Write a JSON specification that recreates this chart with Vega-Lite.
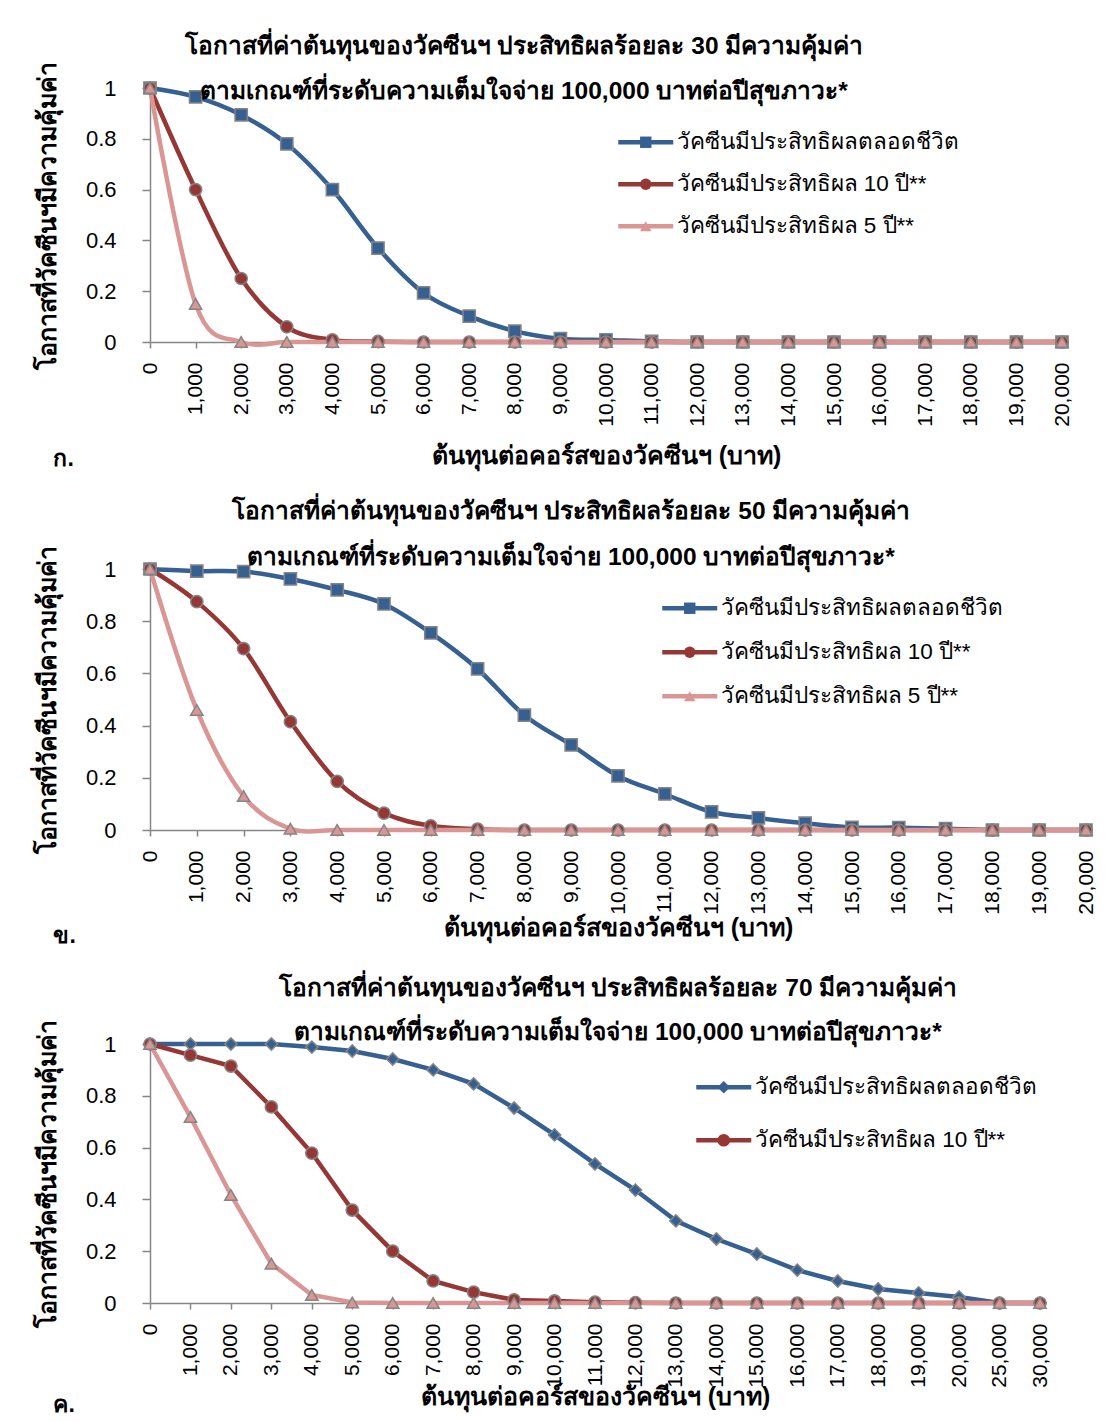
{
  "$schema": "https://vega.github.io/schema/vega-lite/v6.json",
  "padding": {"left": 35, "top": 33, "right": 5, "bottom": 5},
  "spacing": 28,
  "resolve": {"scale": {"color": "independent", "fill": "independent", "shape": "independent"}},
  "config": {
    "font": "Liberation Sans",
    "view": {"stroke": null},
    "title": {"font": "Liberation Sans", "fontSize": 24.5, "fontWeight": "bold", "color": "#000"},
    "axis": {
      "domainColor": "#868686", "domainWidth": 1.5, "tickColor": "#868686", "tickWidth": 1.5,
      "labelColor": "#000", "labelFont": "Liberation Sans", "labelFontSize": 21,
      "titleColor": "#000", "titleFont": "Liberation Sans", "titleFontSize": 25, "titleFontWeight": "bold", "grid": false
    },
    "axisY": {"labelFontSize": 22},
    "legend": {"labelFont": "Liberation Sans", "labelFontSize": 22.5, "labelColor": "#000", "title": null, "labelLimit": 0}
  },
  "vconcat": [
    {
      "title": {"text": "ก.", "orient": "bottom", "anchor": "start", "fontSize": 23, "offset": -20, "dx": 18},
      "vconcat": [
        {
          "width": 912, "height": 254,
          "title": {"text": ["โอกาสที่ค่าต้นทุนของวัคซีนฯ ประสิทธิผลร้อยละ 30 มีความคุ้มค่า", "ตามเกณฑ์ที่ระดับความเต็มใจจ่าย 100,000 บาทต่อปีสุขภาวะ*"], "dx": -82, "offset": -43, "lineHeight": 45, "anchor": "middle"},
          "data": {"values": [
            {"cost": 0, "life": 1, "y10": 1, "y5": 1},
            {"cost": 1000, "life": 0.965, "y10": 0.6, "y5": 0.15},
            {"cost": 2000, "life": 0.894, "y10": 0.25, "y5": 0},
            {"cost": 3000, "life": 0.78, "y10": 0.06, "y5": 0},
            {"cost": 4000, "life": 0.6, "y10": 0.008, "y5": 0},
            {"cost": 5000, "life": 0.37, "y10": 0.002, "y5": 0},
            {"cost": 6000, "life": 0.193, "y10": 0, "y5": 0},
            {"cost": 7000, "life": 0.102, "y10": 0, "y5": 0},
            {"cost": 8000, "life": 0.043, "y10": 0, "y5": 0},
            {"cost": 9000, "life": 0.013, "y10": 0, "y5": 0},
            {"cost": 10000, "life": 0.008, "y10": 0, "y5": 0},
            {"cost": 11000, "life": 0.002, "y10": 0, "y5": 0},
            {"cost": 12000, "life": 0, "y10": 0, "y5": 0},
            {"cost": 13000, "life": 0, "y10": 0, "y5": 0},
            {"cost": 14000, "life": 0, "y10": 0, "y5": 0},
            {"cost": 15000, "life": 0, "y10": 0, "y5": 0},
            {"cost": 16000, "life": 0, "y10": 0, "y5": 0},
            {"cost": 17000, "life": 0, "y10": 0, "y5": 0},
            {"cost": 18000, "life": 0, "y10": 0, "y5": 0},
            {"cost": 19000, "life": 0, "y10": 0, "y5": 0},
            {"cost": 20000, "life": 0, "y10": 0, "y5": 0}
          ]},
          "transform": [{"fold": ["life", "y10", "y5"], "as": ["series", "p"]}],
          "encoding": {
            "x": {"field": "cost", "type": "ordinal", "scale": {"type": "point", "padding": 0},
                  "axis": {"labelAngle": 270, "labelExpr": "format(datum.value, ',')", "tickSize": 6, "labelPadding": 14, "title": "ต้นทุนต่อคอร์สของวัคซีนฯ (บาท)", "titleY": 101, "titleBaseline": "top"}},
            "y": {"field": "p", "type": "quantitative", "scale": {"domain": [0, 1]},
                  "axis": {"values": [0, 0.2, 0.4, 0.6, 0.8, 1], "format": ".1~f", "tickSize": 8, "labelPadding": 26, "title": "โอกาสที่วัคซีนฯมีความคุ้มค่า", "titlePadding": 25}}
          },
          "layer": [
            {"mark": {"type": "line", "interpolate": "cardinal", "strokeWidth": 4.5},
             "encoding": {"color": {"field": "series", "type": "nominal",
               "scale": {"domain": ["life", "y10", "y5"], "range": ["#376092", "#953735", "#D99694"]},
               "legend": {"orient": "none", "legendX": 484.5, "legendY": 43, "symbolType": "M-5,0H5", "symbolSize": 121, "symbolStrokeWidth": 4.5, "labelOffset": 19.5, "rowPadding": 19,
                 "labelExpr": "{'life': 'วัคซีนมีประสิทธิผลตลอดชีวิต', 'y10': 'วัคซีนมีประสิทธิผล 10 ปี**', 'y5': 'วัคซีนมีประสิทธิผล 5 ปี**'}[datum.label]"}}}},
            {"mark": {"type": "point", "filled": true, "size": 150, "stroke": "#858585", "strokeWidth": 1.5, "opacity": 1},
             "encoding": {
               "fill": {"field": "series", "type": "nominal", "scale": {"domain": ["life", "y10", "y5", "_"], "range": ["#376092", "#953735", "#D99694", "#ffffff"]},
                 "legend": {"orient": "none", "legendX": 484.5, "legendY": 43, "symbolSize": 130, "symbolStrokeColor": "#858585", "symbolStrokeWidth": 1.5, "symbolOpacity": 1, "labelOffset": 19.5, "rowPadding": 19, "labelOpacity": 0, "values": ["life", "y10", "y5"]}},
               "shape": {"field": "series", "type": "nominal", "scale": {"domain": ["life", "y10", "y5", "_"], "range": ["square", "circle", "triangle-up", "circle"]},
                 "legend": {"orient": "none", "legendX": 484.5, "legendY": 43, "symbolSize": 130, "symbolStrokeColor": "#858585", "symbolStrokeWidth": 1.5, "symbolOpacity": 1, "labelOffset": 19.5, "rowPadding": 19, "labelOpacity": 0, "values": ["life", "y10", "y5"]}}
             }}
          ]
        }
      ]
    },
    {
      "title": {"text": "ข.", "orient": "bottom", "anchor": "start", "fontSize": 23, "offset": -15, "dx": 18},
      "vconcat": [
        {
          "width": 936, "height": 261,
          "title": {"text": ["โอกาสที่ค่าต้นทุนของวัคซีนฯ ประสิทธิผลร้อยละ 50 มีความคุ้มค่า", "ตามเกณฑ์ที่ระดับความเต็มใจจ่าย 100,000 บาทต่อปีสุขภาวะ*"], "dx": -47, "offset": -25, "lineHeight": 46, "anchor": "middle"},
          "data": {"values": [
            {"cost": 0, "life": 1, "y10": 1, "y5": 1},
            {"cost": 1000, "life": 0.992, "y10": 0.875, "y5": 0.46},
            {"cost": 2000, "life": 0.99, "y10": 0.695, "y5": 0.13},
            {"cost": 3000, "life": 0.962, "y10": 0.415, "y5": 0.005},
            {"cost": 4000, "life": 0.92, "y10": 0.186, "y5": 0},
            {"cost": 5000, "life": 0.866, "y10": 0.065, "y5": 0},
            {"cost": 6000, "life": 0.755, "y10": 0.016, "y5": 0},
            {"cost": 7000, "life": 0.617, "y10": 0.003, "y5": 0},
            {"cost": 8000, "life": 0.44, "y10": 0, "y5": 0},
            {"cost": 9000, "life": 0.326, "y10": 0, "y5": 0},
            {"cost": 10000, "life": 0.207, "y10": 0, "y5": 0},
            {"cost": 11000, "life": 0.138, "y10": 0, "y5": 0},
            {"cost": 12000, "life": 0.069, "y10": 0, "y5": 0},
            {"cost": 13000, "life": 0.046, "y10": 0, "y5": 0},
            {"cost": 14000, "life": 0.026, "y10": 0, "y5": 0},
            {"cost": 15000, "life": 0.01, "y10": 0, "y5": 0},
            {"cost": 16000, "life": 0.009, "y10": 0, "y5": 0},
            {"cost": 17000, "life": 0.005, "y10": 0, "y5": 0},
            {"cost": 18000, "life": 0, "y10": 0, "y5": 0},
            {"cost": 19000, "life": 0, "y10": 0, "y5": 0},
            {"cost": 20000, "life": 0, "y10": 0, "y5": 0}
          ]},
          "transform": [{"fold": ["life", "y10", "y5"], "as": ["series", "p"]}],
          "encoding": {
            "x": {"field": "cost", "type": "ordinal", "scale": {"type": "point", "padding": 0},
                  "axis": {"labelAngle": 270, "labelExpr": "format(datum.value, ',')", "tickSize": 6, "labelPadding": 14, "title": "ต้นทุนต่อคอร์สของวัคซีนฯ (บาท)", "titleY": 85, "titleBaseline": "top"}},
            "y": {"field": "p", "type": "quantitative", "scale": {"domain": [0, 1]},
                  "axis": {"values": [0, 0.2, 0.4, 0.6, 0.8, 1], "format": ".1~f", "tickSize": 8, "labelPadding": 26, "title": "โอกาสที่วัคซีนฯมีความคุ้มค่า", "titlePadding": 25}}
          },
          "layer": [
            {"mark": {"type": "line", "interpolate": "cardinal", "strokeWidth": 4.5},
             "encoding": {"color": {"field": "series", "type": "nominal",
               "scale": {"domain": ["life", "y10", "y5"], "range": ["#376092", "#953735", "#D99694"]},
               "legend": {"orient": "none", "legendX": 528.5, "legendY": 28, "symbolType": "M-5,0H5", "symbolSize": 121, "symbolStrokeWidth": 4.5, "labelOffset": 19.5, "rowPadding": 21,
                 "labelExpr": "{'life': 'วัคซีนมีประสิทธิผลตลอดชีวิต', 'y10': 'วัคซีนมีประสิทธิผล 10 ปี**', 'y5': 'วัคซีนมีประสิทธิผล 5 ปี**'}[datum.label]"}}}},
            {"mark": {"type": "point", "filled": true, "size": 150, "stroke": "#858585", "strokeWidth": 1.5, "opacity": 1},
             "encoding": {
               "fill": {"field": "series", "type": "nominal", "scale": {"domain": ["life", "y10", "y5", "_"], "range": ["#376092", "#953735", "#D99694", "#ffffff"]},
                 "legend": {"orient": "none", "legendX": 528.5, "legendY": 28, "symbolSize": 130, "symbolStrokeColor": "#858585", "symbolStrokeWidth": 1.5, "symbolOpacity": 1, "labelOffset": 19.5, "rowPadding": 21, "labelOpacity": 0, "values": ["life", "y10", "y5"]}},
               "shape": {"field": "series", "type": "nominal", "scale": {"domain": ["life", "y10", "y5", "_"], "range": ["square", "circle", "triangle-up", "circle"]},
                 "legend": {"orient": "none", "legendX": 528.5, "legendY": 28, "symbolSize": 130, "symbolStrokeColor": "#858585", "symbolStrokeWidth": 1.5, "symbolOpacity": 1, "labelOffset": 19.5, "rowPadding": 21, "labelOpacity": 0, "values": ["life", "y10", "y5"]}}
             }}
          ]
        }
      ]
    },
    {
      "title": {"text": "ค.", "orient": "bottom", "anchor": "start", "fontSize": 23, "offset": -15, "dx": 18},
      "vconcat": [
        {
          "width": 890, "height": 259,
          "title": {"text": ["โอกาสที่ค่าต้นทุนของวัคซีนฯ ประสิทธิผลร้อยละ 70 มีความคุ้มค่า", "ตามเกณฑ์ที่ระดับความเต็มใจจ่าย 100,000 บาทต่อปีสุขภาวะ*"], "dx": 23, "offset": -26, "lineHeight": 44, "anchor": "middle"},
          "data": {"values": [
            {"cost": 0, "life": 1, "y10": 1, "y5": 1},
            {"cost": 1000, "life": 1, "y10": 0.957, "y5": 0.718},
            {"cost": 2000, "life": 1, "y10": 0.915, "y5": 0.417},
            {"cost": 3000, "life": 1, "y10": 0.757, "y5": 0.152},
            {"cost": 4000, "life": 0.988, "y10": 0.579, "y5": 0.031},
            {"cost": 5000, "life": 0.973, "y10": 0.359, "y5": 0.002},
            {"cost": 6000, "life": 0.942, "y10": 0.2, "y5": 0},
            {"cost": 7000, "life": 0.9, "y10": 0.085, "y5": 0},
            {"cost": 8000, "life": 0.846, "y10": 0.042, "y5": 0},
            {"cost": 9000, "life": 0.753, "y10": 0.012, "y5": 0},
            {"cost": 10000, "life": 0.649, "y10": 0.008, "y5": 0},
            {"cost": 11000, "life": 0.537, "y10": 0.003, "y5": 0},
            {"cost": 12000, "life": 0.436, "y10": 0.001, "y5": 0},
            {"cost": 13000, "life": 0.317, "y10": 0, "y5": 0},
            {"cost": 14000, "life": 0.247, "y10": 0, "y5": 0},
            {"cost": 15000, "life": 0.189, "y10": 0, "y5": 0},
            {"cost": 16000, "life": 0.127, "y10": 0, "y5": 0},
            {"cost": 17000, "life": 0.085, "y10": 0, "y5": 0},
            {"cost": 18000, "life": 0.054, "y10": 0, "y5": 0},
            {"cost": 19000, "life": 0.039, "y10": 0, "y5": 0},
            {"cost": 20000, "life": 0.023, "y10": 0, "y5": 0},
            {"cost": 25000, "life": 0, "y10": 0, "y5": 0},
            {"cost": 30000, "life": 0, "y10": 0, "y5": 0}
          ]},
          "transform": [{"fold": ["life", "y10", "y5"], "as": ["series", "p"]}],
          "encoding": {
            "x": {"field": "cost", "type": "ordinal", "scale": {"type": "point", "padding": 0},
                  "axis": {"labelAngle": 270, "labelExpr": "format(datum.value, ',')", "tickSize": 6, "labelPadding": 14, "title": "ต้นทุนต่อคอร์สของวัคซีนฯ (บาท)", "titleY": 81, "titleBaseline": "top"}},
            "y": {"field": "p", "type": "quantitative", "scale": {"domain": [0, 1]},
                  "axis": {"values": [0, 0.2, 0.4, 0.6, 0.8, 1], "format": ".1~f", "tickSize": 8, "labelPadding": 26, "title": "โอกาสที่วัคซีนฯมีความคุ้มค่า", "titlePadding": 25}}
          },
          "layer": [
            {"mark": {"type": "line", "strokeWidth": 4.5},
             "encoding": {"color": {"field": "series", "type": "nominal",
               "scale": {"domain": ["life", "y10", "y5"], "range": ["#376092", "#953735", "#D99694"]},
               "legend": {"orient": "none", "legendX": 562.5, "legendY": 32, "symbolType": "M-5,0H5", "symbolSize": 121, "symbolStrokeWidth": 4.5, "labelOffset": 20, "rowPadding": 30, "values": ["life", "y10"],
                 "labelExpr": "{'life': 'วัคซีนมีประสิทธิผลตลอดชีวิต', 'y10': 'วัคซีนมีประสิทธิผล 10 ปี**', 'y5': 'วัคซีนมีประสิทธิผล 5 ปี**'}[datum.label]"}}}},
            {"mark": {"type": "point", "filled": true, "size": 150, "stroke": "#858585", "strokeWidth": 1.5, "opacity": 1},
             "encoding": {
               "fill": {"field": "series", "type": "nominal", "scale": {"domain": ["life", "y10", "y5", "_"], "range": ["#376092", "#953735", "#D99694", "#ffffff"]},
                 "legend": {"orient": "none", "legendX": 562.5, "legendY": 32, "symbolSize": 160, "symbolStrokeColor": "#858585", "symbolStrokeWidth": 1.5, "symbolOpacity": 1, "labelOffset": 20, "rowPadding": 30, "labelOpacity": 0, "values": ["life", "y10"]}},
               "shape": {"field": "series", "type": "nominal", "scale": {"domain": ["life", "y10", "y5", "_"], "range": ["diamond", "circle", "triangle-up", "circle"]},
                 "legend": {"orient": "none", "legendX": 562.5, "legendY": 32, "symbolSize": 160, "symbolStrokeColor": "#858585", "symbolStrokeWidth": 1.5, "symbolOpacity": 1, "labelOffset": 20, "rowPadding": 30, "labelOpacity": 0, "values": ["life", "y10"]}}
             }}
          ]
        }
      ]
    }
  ]
}
